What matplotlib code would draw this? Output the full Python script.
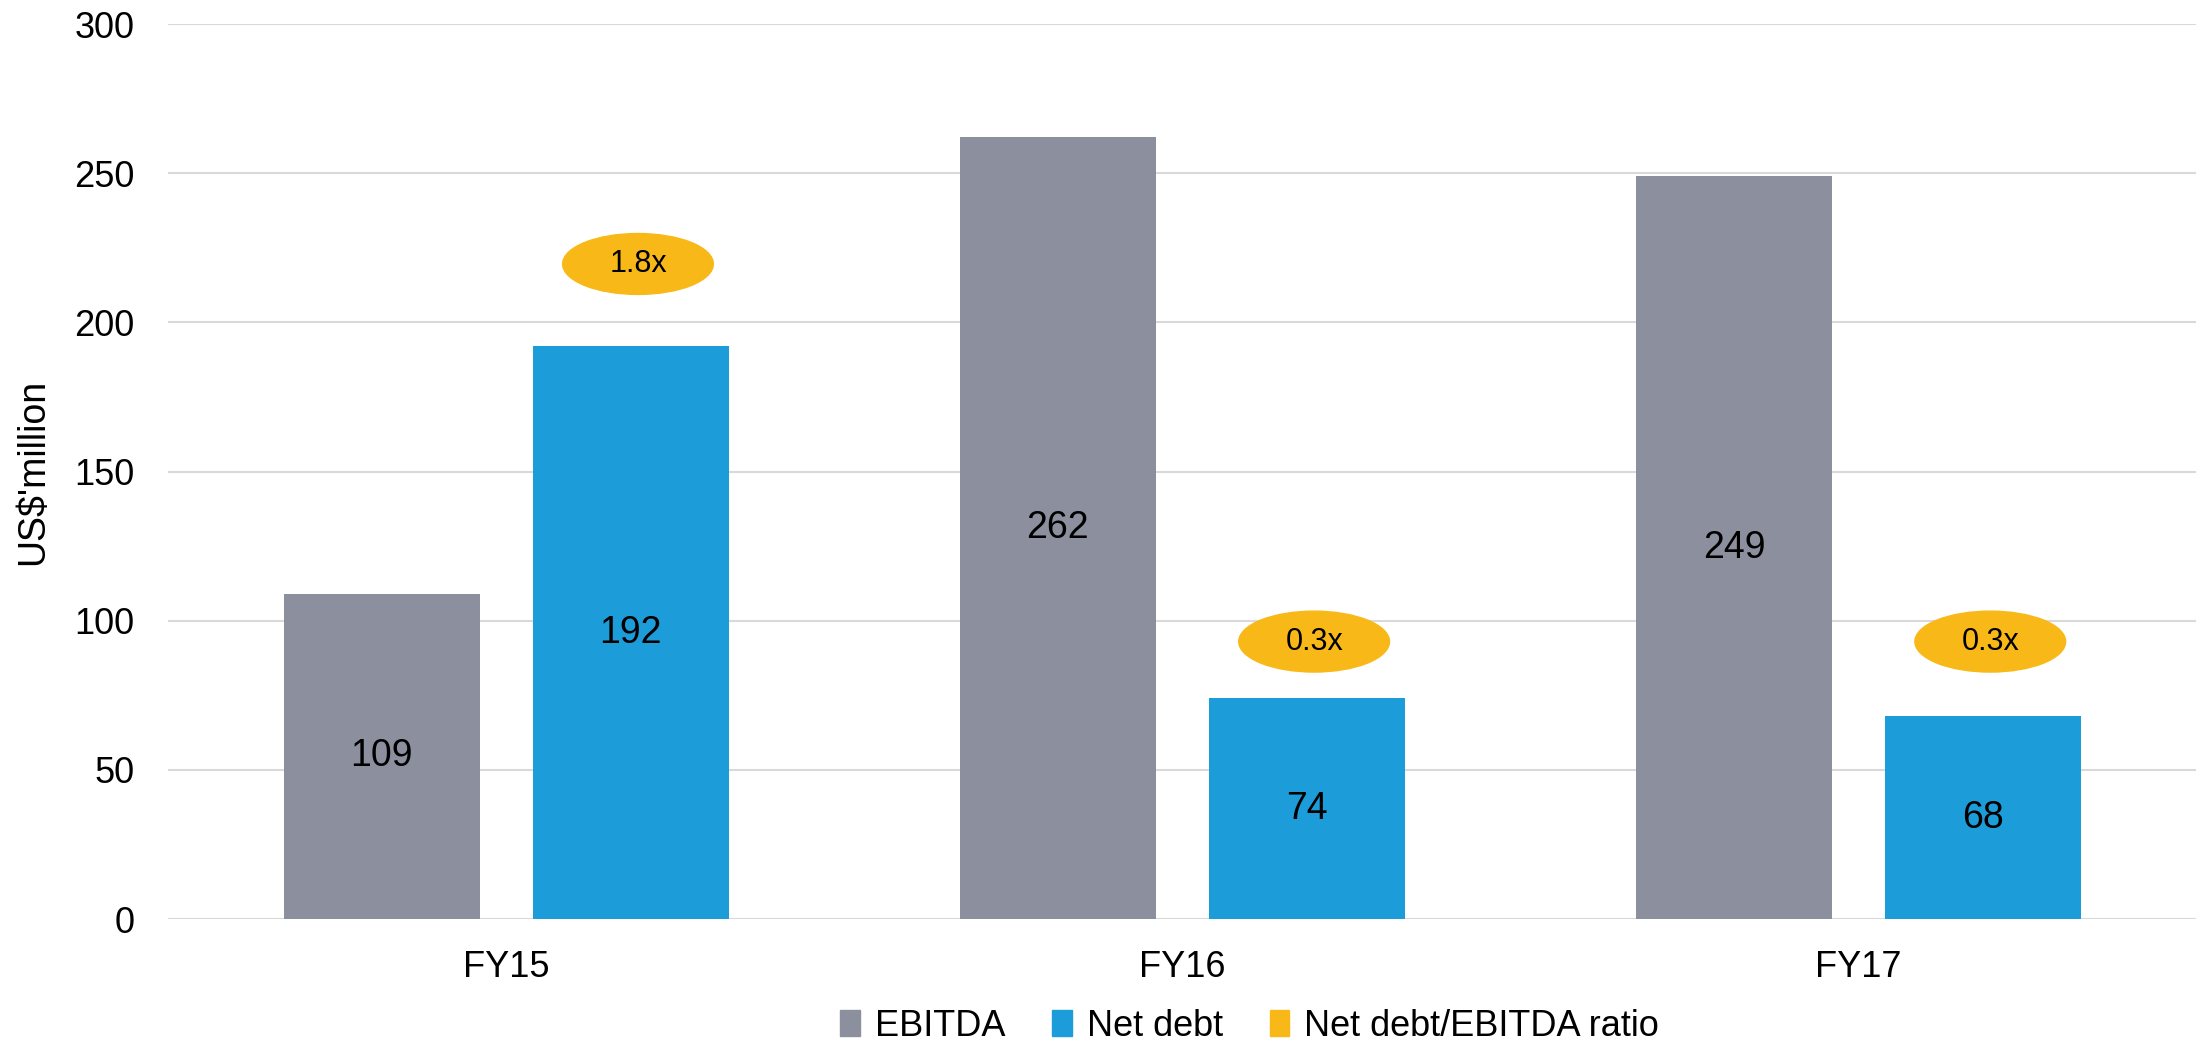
import numpy as np
import matplotlib
matplotlib.use("Agg")
import matplotlib.pyplot as plt
from matplotlib.patches import Ellipse, Patch

plt.rcParams['font.family'] = ['Liberation Sans', 'DejaVu Sans']

# data
years = ['FY15', 'FY16', 'FY17']
ebitda = [109, 262, 249]
net_debt = [192, 74, 68]
ratio = [1.8, 0.3, 0.3]
ratio_labels = ['1.8x', '0.3x', '0.3x']

grey = '#8c8f9d'
blue = '#1c9cd8'
yellow = '#f8b918'

fig = plt.figure(figsize=(22, 10.46), dpi=100)
ax = fig.add_axes([0.0764, 0.1214, 0.922, 0.8556])

x = np.arange(len(years))
w = 0.29
b1 = ax.bar(x - 0.184, ebitda, w, color=grey, zorder=2)
b2 = ax.bar(x + 0.184, net_debt, w, color=blue, zorder=2)
ax.bar_label(b1, label_type='center', fontsize=27)
ax.bar_label(b2, label_type='center', fontsize=27)

ax.set_xlim(-0.5, 2.5)
ax.set_ylim(0, 300)
ax.set_yticks(range(0, 301, 50))
ax.set_xticks(x)
ax.set_xticklabels(years)
ax.tick_params(axis='both', length=0, labelsize=26)
ax.tick_params(axis='y', pad=24)
ax.tick_params(axis='x', pad=22)
ax.yaxis.grid(True, color='#d9d9d9', linewidth=1.5, zorder=0)
ax.set_axisbelow(True)
for s in ax.spines.values():
    s.set_visible(False)
ax.set_ylabel("US$'million", fontsize=27, labelpad=17)

# ratio ellipses on a hidden secondary axis
ax2 = ax.twinx()
ax2.set_ylim(-0.802, 2.753)
ax2.set_xlim(-0.5, 2.5)
ax2.axis('off')
for xi, r, lab in zip(x, ratio, ratio_labels):
    ax2.add_patch(Ellipse((xi + 0.195, r), 0.223, 0.242, color=yellow, zorder=3))
    ax2.text(xi + 0.195, r, lab, ha='center', va='center', fontsize=22, zorder=4)

handles = [Patch(color=grey), Patch(color=blue), Patch(color=yellow)]
fig.legend(handles, ['EBITDA', 'Net debt', 'Net debt/EBITDA ratio'],
           loc='center', bbox_to_anchor=(0.568, 0.019), ncol=3, frameon=False,
           fontsize=26, handlelength=0.55, handleheight=0.75, handletextpad=0.4,
           columnspacing=1.3)

fig.savefig('out.png', dpi=100)
